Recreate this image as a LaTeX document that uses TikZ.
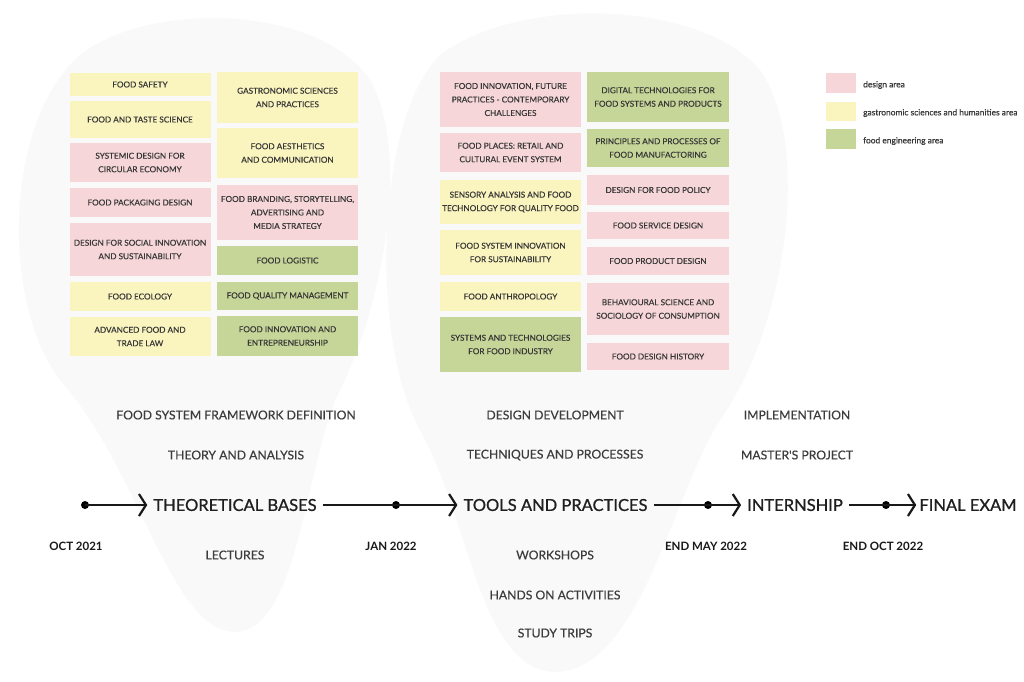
\documentclass[tikz,border=0pt]{standalone}
\usepackage{fontspec}
\setmainfont{Lato}
\newfontfamily\medfont[FakeBold=0.35]{Lato}
\newfontfamily\phasefont[FakeBold=0.9]{Lato}
\usetikzlibrary{arrows.meta}
\definecolor{pinkc}{RGB}{246,214,216}
\definecolor{yellowc}{RGB}{250,244,190}
\definecolor{greenc}{RGB}{198,214,152}
\definecolor{boxtext}{RGB}{55,55,55}
\definecolor{labtext}{RGB}{60,60,60}
\definecolor{blobc}{RGB}{249,249,249}
\tikzset{
  course/.style={minimum width=141pt, inner sep=0pt, align=center, text=boxtext,
     font=\medfont\fontsize{8.2}{13.5}\selectfont},
  pk/.style={course, fill=pinkc},
  yl/.style={course, fill=yellowc},
  gr/.style={course, fill=greenc},
  phase/.style={font=\phasefont\fontsize{16.5}{18}\selectfont, text=black!88, inner xsep=6pt, inner ysep=0pt},
  sublab/.style={font=\medfont\fontsize{12.2}{13}\selectfont, text=labtext},
  datelab/.style={font=\bfseries\fontsize{11.5}{12}\selectfont, text=black!90},
  tdot/.style={circle, fill=black, inner sep=0pt, minimum size=8pt},
  tline/.style={line width=2.2pt, black!90},
  tarrow/.style={tline, -{Straight Barb[length=7pt,width=22pt,line width=2.2pt]}},
  legsq/.style={minimum width=30pt, minimum height=20pt, inner sep=0pt},
  legtext/.style={anchor=west, font=\medfont\fontsize{8.4}{9}\selectfont, text=boxtext, inner sep=0pt}
}
\begin{document}
\begin{tikzpicture}[x=1pt,y=-1pt]
\useasboundingbox (0,0) rectangle (1024,681);
\fill[white] (0,0) rectangle (1024,681);
% background blobs
\fill[blobc] (235,632) .. controls (170,630) and (140,470) .. (60,380)
  .. controls (0,300) and (5,120) .. (80,55) .. controls (150,0) and (320,5) .. (370,80)
  .. controls (410,150) and (385,300) .. (340,390) .. controls (305,460) and (300,630) .. (235,632) -- cycle;
\fill[blobc] (555,672) .. controls (480,670) and (470,520) .. (420,430)
  .. controls (370,340) and (375,120) .. (440,55) .. controls (520,-5) and (700,0) .. (760,70)
  .. controls (810,140) and (790,320) .. (720,420) .. controls (670,500) and (640,670) .. (555,672) -- cycle;

% left block, column 1
\node[yl, minimum height=23pt] (c1) at (140,84.5) {FOOD SAFETY};
\node[yl, minimum height=37pt] (c2) at (140,119.5) {FOOD AND TASTE SCIENCE};
\node[pk, minimum height=39pt] (c3) at (140,162.5) {SYSTEMIC DESIGN FOR\\CIRCULAR ECONOMY};
\node[pk, minimum height=29pt] (c4) at (140,202.5) {FOOD PACKAGING DESIGN};
\node[pk, minimum height=53pt] (c5) at (140,249.5) {DESIGN FOR SOCIAL INNOVATION\\AND SUSTAINABILITY};
\node[yl, minimum height=29pt] (c6) at (140,296.5) {FOOD ECOLOGY};
\node[yl, minimum height=39pt] (c7) at (140,336.5) {ADVANCED FOOD AND\\TRADE LAW};
% left block, column 2
\node[yl, minimum height=51pt] (c8) at (287.5,97.5) {GASTRONOMIC SCIENCES\\AND PRACTICES};
\node[yl, minimum height=50pt] (c9) at (287.5,153) {FOOD AESTHETICS\\AND COMMUNICATION};
\node[pk, minimum height=55pt] (c10) at (287.5,212.5) {FOOD BRANDING, STORYTELLING,\\ADVERTISING AND\\MEDIA STRATEGY};
\node[gr, minimum height=29pt] (c11) at (287.5,260.5) {FOOD LOGISTIC};
\node[gr, minimum height=28pt] (c12) at (287.5,296) {FOOD QUALITY MANAGEMENT};
\node[gr, minimum height=40pt] (c13) at (287.5,336) {FOOD INNOVATION AND\\ENTREPRENEURSHIP};
% middle block, column 1
\node[pk, minimum height=55pt] (m1) at (510.5,99.5) {FOOD INNOVATION, FUTURE\\PRACTICES - CONTEMPORARY\\CHALLENGES};
\node[pk, minimum height=39pt] (m2) at (510.5,152.5) {FOOD PLACES: RETAIL AND\\CULTURAL EVENT SYSTEM};
\node[yl, minimum height=44pt] (m3) at (510.5,202) {SENSORY ANALYSIS AND FOOD\\TECHNOLOGY FOR QUALITY FOOD};
\node[yl, minimum height=45pt] (m4) at (510.5,252.5) {FOOD SYSTEM INNOVATION\\FOR SUSTAINABILITY};
\node[yl, minimum height=29pt] (m5) at (510.5,296.5) {FOOD ANTHROPOLOGY};
\node[gr, minimum height=55pt] (m6) at (510.5,344.5) {SYSTEMS AND TECHNOLOGIES\\FOR FOOD INDUSTRY};
% middle block, column 2
\node[gr, minimum height=50pt, minimum width=142pt] (m7) at (658,97) {DIGITAL TECHNOLOGIES FOR\\FOOD SYSTEMS AND PRODUCTS};
\node[gr, minimum height=38pt, minimum width=142pt] (m8) at (658,148) {PRINCIPLES AND PROCESSES OF\\FOOD MANUFACTORING};
\node[pk, minimum height=30pt, minimum width=142pt] (m9) at (658,190) {DESIGN FOR FOOD POLICY};
\node[pk, minimum height=27pt, minimum width=142pt] (m10) at (658,225.5) {FOOD SERVICE DESIGN};
\node[pk, minimum height=28pt, minimum width=142pt] (m11) at (658,261) {FOOD PRODUCT DESIGN};
\node[pk, minimum height=52pt, minimum width=142pt] (m12) at (658,309) {BEHAVIOURAL SCIENCE AND\\SOCIOLOGY OF CONSUMPTION};
\node[pk, minimum height=27pt, minimum width=142pt] (m13) at (658,356.5) {FOOD DESIGN HISTORY};

% legend
\node[legsq, fill=pinkc] (l1) at (841,83) {};
\node[legsq, fill=yellowc, minimum height=19pt] (l2) at (841,111) {};
\node[legsq, fill=greenc] (l3) at (841,139) {};
\node[legtext] (lt1) at (863,85) {design area};
\node[legtext] (lt2) at (863,113) {gastronomic sciences and humanities area};
\node[legtext] (lt3) at (863,141) {food engineering area};

% timeline labels
\node[sublab] (s1) at (236,415) {FOOD SYSTEM FRAMEWORK DEFINITION};
\node[sublab] (s2) at (236,455) {THEORY AND ANALYSIS};
\node[sublab] (s3) at (235,555) {LECTURES};
\node[sublab] (s4) at (555,415) {DESIGN DEVELOPMENT};
\node[sublab] (s5) at (555,455) {TECHNIQUES AND PROCESSES};
\node[sublab] (s6) at (555,555) {WORKSHOPS};
\node[sublab] (s7) at (555,595) {HANDS ON ACTIVITIES};
\node[sublab] (s8) at (555,633) {STUDY TRIPS};
\node[sublab] (s9) at (797,415) {IMPLEMENTATION};
\node[sublab] (s10) at (797,455) {MASTER'S PROJECT};

\node[datelab] (dt1) at (76,546) {OCT 2021};
\node[datelab] (dt2) at (391,546) {JAN 2022};
\node[datelab] (dt3) at (706,546) {END MAY 2022};
\node[datelab] (dt4) at (883,546) {END OCT 2022};

% timeline
\node[phase] (p1) at (235,505) {THEORETICAL BASES};
\node[phase] (p2) at (555.5,505) {TOOLS AND PRACTICES};
\node[phase] (p3) at (795,505) {INTERNSHIP};
\node[phase, inner xsep=3pt] (p4) at (968,505) {FINAL EXAM};
\node[tdot] (d1) at (85,505) {};
\node[tdot] (d2) at (396,505) {};
\node[tdot] (d3) at (708,505) {};
\node[tdot] (d4) at (886,505) {};
\draw[tarrow] (d1.center) -- (p1.west);
\draw[tline] (p1.east) -- (d2.center);
\draw[tarrow] (d2.center) -- (p2.west);
\draw[tline] (p2.east) -- (d3.center);
\draw[tarrow] (d3.center) -- (p3.west);
\draw[tline] (p3.east) -- (d4.center);
\draw[tarrow] (d4.center) -- (p4.west);
\end{tikzpicture}
\end{document}
